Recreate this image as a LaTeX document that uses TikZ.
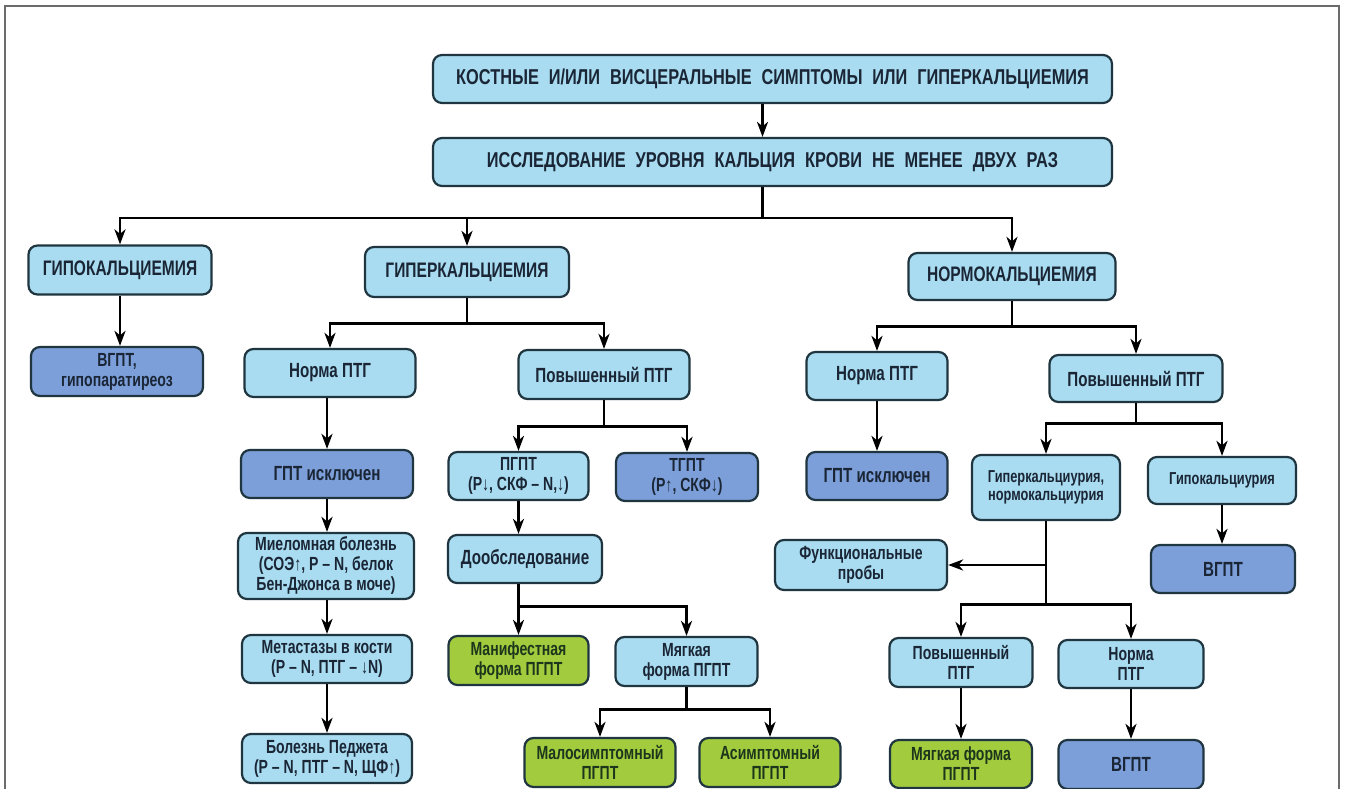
\documentclass[tikz,border=0pt]{standalone}
\usepackage{fontspec}
\setmainfont{Liberation Sans}[FakeStretch=0.74]
\newfontfamily\capsf{Liberation Sans}[FakeStretch=0.76,WordSpace=2.2]
\usetikzlibrary{arrows.meta}
\definecolor{lbfill}{HTML}{A9DCF0}
\definecolor{dbfill}{HTML}{7D9FD9}
\definecolor{grfill}{HTML}{A2CB3E}
\definecolor{bord}{HTML}{1F3540}
\definecolor{txt}{HTML}{1A2636}
\definecolor{gtxt}{HTML}{1C361C}
\definecolor{frame}{HTML}{6B6B6B}
\tikzset{
  bx/.style={draw=bord, line width=2.2pt, rounded corners=9pt, align=center, inner sep=1pt, text=txt,
    font=\bfseries\fontsize{20.5}{22}\selectfont},
  lb/.style={bx, fill=lbfill},
  db/.style={bx, fill=dbfill},
  gb/.style={bx, fill=grfill, text=gtxt},
  sz/.style 2 args={minimum width=#1pt, minimum height=#2pt},
  capsT/.style={font=\capsf\bfseries\fontsize{21.5}{23}\selectfont},
  capsS/.style={font=\bfseries\fontsize{21}{22}\selectfont},
  two/.style={font=\bfseries\fontsize{19}{20}\selectfont},
  small/.style={font=\bfseries\fontsize{17.3}{18.5}\selectfont},
  ln/.style={draw=black, line width=2.8pt},
  arr/.style={ln, -{Stealth[length=15pt,width=11pt,inset=4.5pt]}}
}
\begin{document}
\begin{tikzpicture}[x=1pt,y=-1pt]
\useasboundingbox (0,0) rectangle (1345,789);
\fill[white] (0,0) rectangle (1345,789);
\draw[frame, line width=2pt] (5,789) -- (5,6) -- (1339,6) -- (1339,789);

% level 0
\node[lb, capsT, sz={679}{48}] (top) at (772.5,79) {КОСТНЫЕ И/ИЛИ ВИСЦЕРАЛЬНЫЕ СИМПТОМЫ ИЛИ ГИПЕРКАЛЬЦИЕМИЯ};
\node[lb, capsT, sz={679}{48}] (second) at (772.5,162) {ИССЛЕДОВАНИЕ УРОВНЯ КАЛЬЦИЯ КРОВИ НЕ МЕНЕЕ ДВУХ РАЗ};

% level 1
\node[lb, capsS, sz={183}{49}] (hypo) at (120,270) {ГИПОКАЛЬЦИЕМИЯ};
\node[lb, capsS, sz={204}{50}] (hyper) at (467,272) {ГИПЕРКАЛЬЦИЕМИЯ};
\node[lb, capsS, sz={207}{47}] (normo) at (1012,276.5) {НОРМОКАЛЬЦИЕМИЯ};

% left branch
\node[db, two, sz={172}{49}] (vgpt1) at (117,371.5) {ВГПТ,\\гипопаратиреоз};

% hypercalcemia branch
\node[lb, sz={171}{48}] (normaL) at (330,373) {Норма ПТГ};
\node[lb, sz={171}{49}] (povL) at (604,374.5) {Повышенный ПТГ};
\node[db, sz={172}{48}] (gptL) at (327,474) {ГПТ исключен};
\node[lb, two, sz={176}{66}] (mielo) at (326,566) {Миеломная болезнь\\(СОЭ↑, P – N, белок\\Бен-Джонса в моче)};
\node[lb, two, sz={170}{48}] (metast) at (327,659) {Метастазы в кости\\(P – N, ПТГ – ↓N)};
\node[lb, two, sz={170}{49}] (pedzh) at (327,758.5) {Болезнь Педжета\\(P – N, ПТГ – N, ЩФ↑)};

\node[lb, two, sz={140}{48}] (pgpt) at (518.5,476) {ПГПТ\\(P↓, СКФ – N,↓)};
\node[db, two, sz={142}{48}] (tgpt) at (687,477) {ТГПТ\\(P↑, СКФ↓)};
\node[lb, sz={154}{48}] (doob) at (525,559) {Дообследование};
\node[gb, two, sz={140}{49}] (manif) at (518.5,660.5) {Манифестная\\форма ПГПТ};
\node[lb, two, sz={142}{49}] (myagk) at (686.5,661.5) {Мягкая\\форма ПГПТ};
\node[gb, two, sz={151}{49}] (malo) at (600,762.5) {Малосимптомный\\ПГПТ};
\node[gb, two, sz={141}{49}] (asimp) at (770,762.5) {Асимптомный\\ПГПТ};

% normocalcemia branch
\node[lb, sz={141}{48}] (normaR) at (877,376) {Норма ПТГ};
\node[lb, sz={173}{47}] (povR) at (1136,378.5) {Повышенный ПТГ};
\node[db, sz={141}{48}] (gptR) at (877,476) {ГПТ исключен};
\node[lb, small, sz={148}{65}] (hypercal) at (1046,487.5) {Гиперкальциурия,\\нормокальциурия};
\node[lb, small, sz={148}{47}] (hypocal) at (1222,480.5) {Гипокальциурия};
\node[db, sz={144}{48}] (vgpt2) at (1223,569) {ВГПТ};
\node[lb, two, sz={172}{50}] (funk) at (861,565) {Функциональные\\пробы};
\node[lb, two, sz={143}{49}] (povB) at (961,662.5) {Повышенный\\ПТГ};
\node[lb, two, sz={145}{48}] (normB) at (1131,664) {Норма\\ПТГ};
\node[gb, two, sz={142}{48}] (myagkB) at (961,764) {Мягкая форма\\ПГПТ};
\node[db, sz={145}{49}] (vgpt3) at (1131,764.5) {ВГПТ};

% connectors
\draw[arr] ([xshift=-10pt]top.south) -- ([xshift=-10pt]second.north);
\draw[ln] ([xshift=-10pt]second.south) -- ++(0,31) coordinate (b0);
\draw[arr] (b0) -| (hypo.north);
\draw[arr] (b0) -| (normo.north);
\draw[arr] (hyper.north |- b0) -- (hyper.north);

\draw[arr] (hypo.south) -- (hypo.south |- vgpt1.north);

\draw[ln] (hyper.south) -- ++(0,25) coordinate (b1);
\draw[arr] (b1) -| (normaL.north);
\draw[arr] (b1) -| (povL.north);

\draw[arr] (normaL.south -| gptL.north) -- (gptL.north);
\draw[arr] (gptL.south) -- (gptL.south |- mielo.north);
\draw[arr] (mielo.south -| metast.north) -- (metast.north);
\draw[arr] (metast.south) -- (pedzh.north);

\draw[ln] (povL.south) -- ++(0,26) coordinate (b2);
\draw[arr] (b2) -| (pgpt.north);
\draw[arr] (b2) -| (tgpt.north);
\draw[arr] (pgpt.south) -- (pgpt.south |- doob.north);
\draw[ln] (doob.south -| pgpt.south) -- ++(0,22) coordinate (b3);
\draw[arr] (b3) -- (manif.north);
\draw[arr] (b3) -| (myagk.north);
\draw[ln] (myagk.south) -- ++(0,22) coordinate (b4);
\draw[arr] (b4) -| (malo.north);
\draw[arr] (b4) -| (asimp.north);

\draw[ln] (normo.south) -- ++(0,25) coordinate (b5);
\draw[arr] (b5) -| (normaR.north);
\draw[arr] (b5) -| (povR.north);
\draw[arr] (normaR.south) -- (gptR.north);
\draw[ln] (povR.south) -- ++(0,20) coordinate (b6);
\draw[arr] (b6) -| (hypercal.north);
\draw[arr] (b6) -| (hypocal.north);
\draw[arr] (hypocal.south) -- (hypocal.south |- vgpt2.north);

\draw[ln] (hypercal.south) -- ++(0,83) coordinate (b7);
\draw[arr] (hypercal.south |- funk.east) -- (funk.east);
\draw[arr] (b7) -| (povB.north);
\draw[arr] (b7) -| (normB.north);
\draw[arr] (povB.south) -- (myagkB.north);
\draw[arr] (normB.south) -- (vgpt3.north);
\end{tikzpicture}
\end{document}
